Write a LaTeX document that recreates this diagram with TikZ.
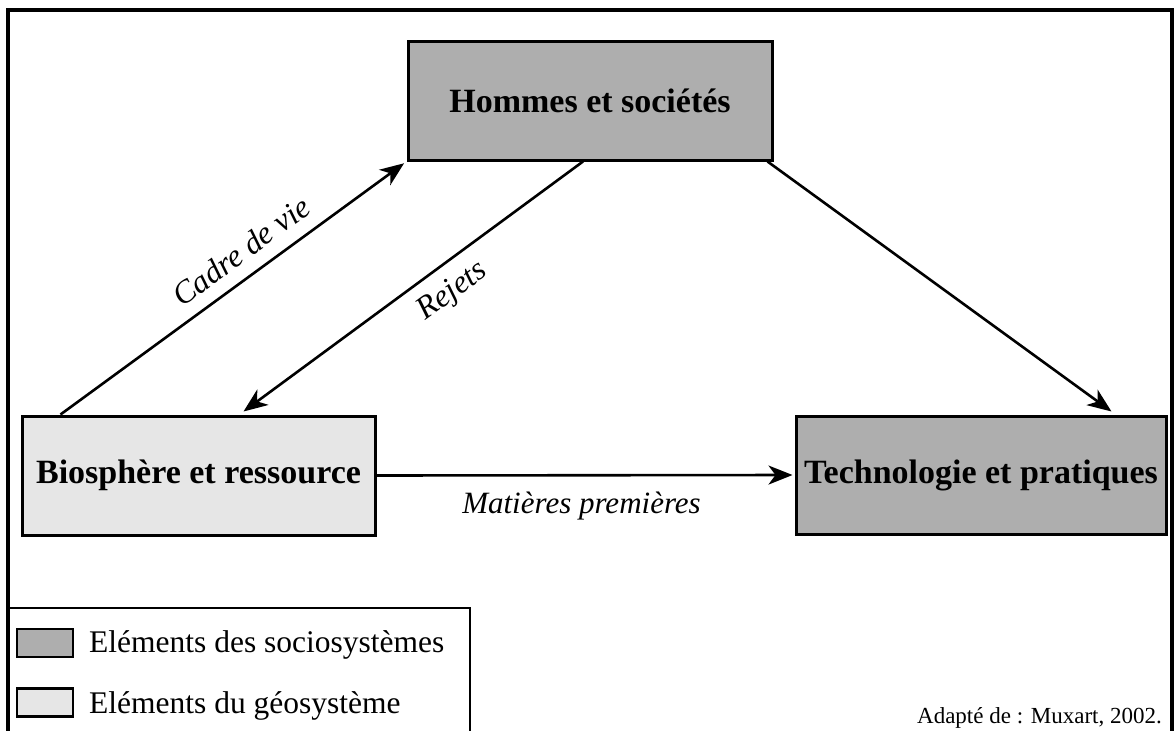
\documentclass[tikz,border=0pt]{standalone}
\usepackage{fontspec}
\setmainfont{Liberation Serif}
\usetikzlibrary{arrows.meta,calc}
\definecolor{socio}{RGB}{174,174,174}
\definecolor{geo}{RGB}{230,230,230}
\begin{document}
\begin{tikzpicture}[x=1pt,y=-1pt,
  boxstyle/.style={draw=black,line width=3pt,inner sep=0pt,font=\fontsize{34}{40}\selectfont\bfseries},
  arr/.style={line width=2.6pt,-{Stealth[length=24pt,width=19pt,inset=7pt]}},
  lab/.style={font=\fontsize{32}{38}\selectfont\itshape,inner sep=0pt},
  swatch/.style={draw=black,line width=2.6pt,minimum width=56pt,minimum height=28pt,inner sep=0pt},
  legtxt/.style={font=\fontsize{31.5}{36}\selectfont,inner sep=0pt,anchor=base west}]
\useasboundingbox (0,0) rectangle (1176,731);
% outer frame (open at the bottom)
\draw[line width=3.5pt] (8,740) -- (8,10) -- (1172,10) -- (1172,740);
% legend frame
\draw[line width=1.2pt] (8,608) -- (470,608) -- (470,740);
% boxes
\node[boxstyle,fill=socio,minimum width=364pt,minimum height=119pt] (hom) at (590,100.5) {Hommes et sociétés};
\node[boxstyle,fill=geo,minimum width=353pt,minimum height=119pt] (bio) at (198.5,475.5) {Biosphère et ressource};
\node[boxstyle,fill=socio,minimum width=370pt,minimum height=118pt] (tech) at (981,475) {Technologie et pratiques};
% connectors
\draw[arr,shorten >=3pt] ($(bio.north west)+(40,0)$) -- (hom.south west);
\draw[arr] ($(hom.south)+(-7,0)$) -- ($(bio.north)+(45,-3)$);
\draw[arr] ($(hom.south east)+(-6,0)$) -- ($(tech.north east)+(-56,-3)$);
\draw[arr] (bio.east) -- ($(tech.west)+(-2,0)$);
% labels
\node[lab,rotate=36.4] (cadre) at (241,251) {Cadre de vie};
\node[lab,rotate=36.4] (rejets) at (453,292) {Rejets};
\node[lab,font=\fontsize{31}{36}\selectfont\itshape,anchor=base] (mat) at (581.5,513) {Matières premières};
% legend
\node[swatch,fill=socio] (sw1) at (45,643) {};
\node[swatch,fill=geo] (sw2) at (45,702.5) {};
\node[legtxt] (lt1) at (89,652) {Eléments des sociosystèmes};
\node[legtxt] (lt2) at (89,713) {Eléments du géosystème};
\node[font=\fontsize{23}{28}\selectfont,inner sep=0pt,anchor=base east] (src) at (1162,723) {Adapté de : Muxart, 2002.};
\end{tikzpicture}
\end{document}
